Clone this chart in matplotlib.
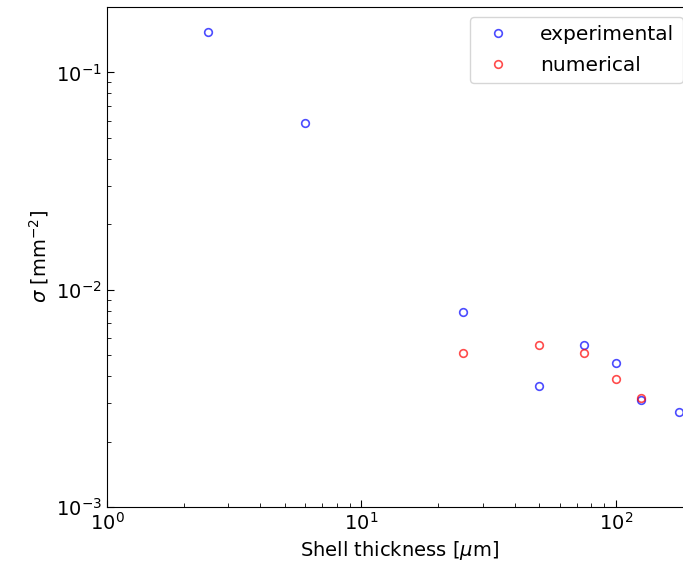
import matplotlib
matplotlib.use("Agg")
import matplotlib.pyplot as plt

# data
exp_thickness = [2.5, 6, 25, 50, 75, 100, 125, 177]
exp_sigma = [0.154, 0.0583, 0.00792, 0.00361, 0.00557, 0.00458, 0.00312, 0.00275]
num_thickness = [25, 50, 75, 100, 125]
num_sigma = [0.00509, 0.00557, 0.00509, 0.00387, 0.00318]

fig = plt.figure(figsize=(6.83, 5.62), dpi=100)
# axes run a little past the right edge, as in the reference
ax = fig.add_axes([107/683, 1 - 507/562, (692.6 - 107)/683, (507 - 7)/562])

ax.plot(exp_thickness, exp_sigma, 'o', mfc='none', mec='blue', alpha=0.7,
        ms=5.5, mew=1.2, label='experimental')
ax.plot(num_thickness, num_sigma, 'o', mfc='none', mec='red', alpha=0.7,
        ms=5.5, mew=1.2, label='numerical')

ax.set_xscale('log')
ax.set_yscale('log')
ax.set_xlim(1, 200)
ax.set_ylim(1e-3, 0.2)
ax.tick_params(which='both', direction='in', labelsize=14)
ax.tick_params(which='major', length=5)
ax.tick_params(which='minor', length=3)
ax.set_xlabel(r'Shell thickness [$\mu$m]', fontsize=14)
ax.set_ylabel(r'$\sigma$ [mm$^{-2}$]', fontsize=14)
ax.legend(loc='upper right', fontsize=14.5, handletextpad=1.1,
          labelspacing=0.6)

fig.savefig('out.png', dpi=100)
